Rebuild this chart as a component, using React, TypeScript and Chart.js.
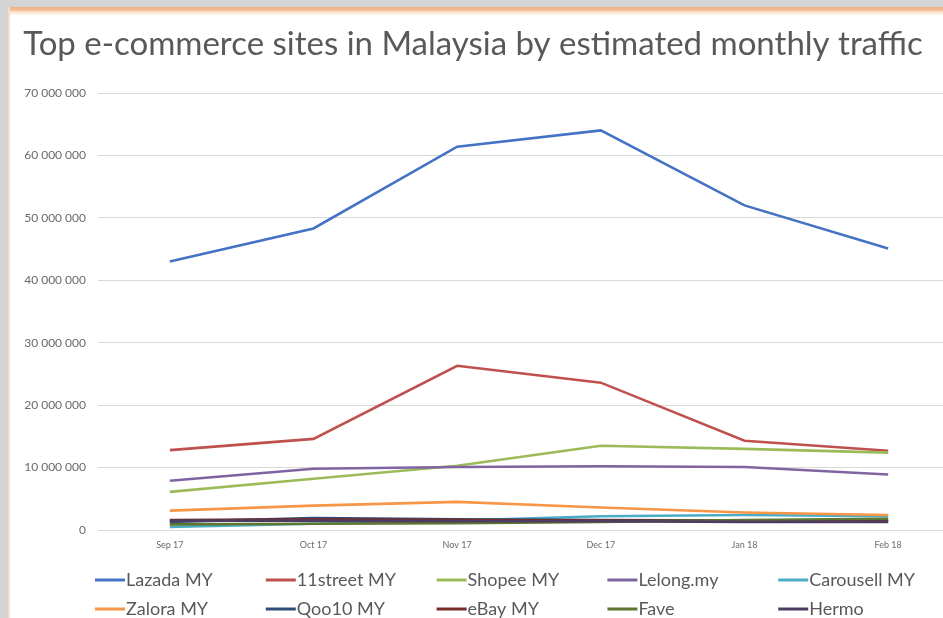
import React, { useEffect, useRef } from "react";
import { Chart, registerables } from "chart.js";

Chart.register(...registerables);

const titleText = "Top e-commerce sites in Malaysia by estimated monthly traffic";
const months = ["Sep 17", "Oct 17", "Nov 17", "Dec 17", "Jan 18", "Feb 18"];

const lazada = [43000000, 48300000, 61400000, 64000000, 52000000, 45100000];
const street11 = [12800000, 14600000, 26300000, 23600000, 14300000, 12700000];
const shopee = [6100000, 8200000, 10300000, 13500000, 13000000, 12400000];
const lelong = [7900000, 9800000, 10100000, 10200000, 10100000, 8900000];
const carousell = [500000, 1000000, 1500000, 2200000, 2400000, 2200000];
const zalora = [3100000, 3900000, 4500000, 3600000, 2800000, 2400000];
const qoo10 = [1300000, 1900000, 1700000, 1600000, 1500000, 1500000];
const ebay = [1600000, 1700000, 1600000, 1500000, 1500000, 1400000];
const fave = [900000, 1000000, 1100000, 1300000, 1600000, 1800000];
const hermo = [1500000, 1500000, 1400000, 1400000, 1300000, 1300000];

const seriesNames = [
  "Lazada MY", "11street MY", "Shopee MY", "Lelong.my", "Carousell MY",
  "Zalora MY", "Qoo10 MY", "eBay MY", "Fave", "Hermo",
];
const seriesValues = [lazada, street11, shopee, lelong, carousell, zalora, qoo10, ebay, fave, hermo];
const seriesColors = [
  "#4472C4", "#C0504D", "#9BBB59", "#8064A2", "#4BACC6",
  "#F79646", "#2C4D75", "#772C2A", "#5F7530", "#4D3B62",
];

const yMax = 70000000;
const yStep = 10000000;

const fmt = (v: number) => String(Math.round(v)).replace(/\B(?=(\d{3})+(?!\d))/g, " ");

const textColor = "#595959";
const FONT = "Lato, 'Open Sans', sans-serif";

const overlayPlugin = {
  id: "titleLegend",
  afterDraw(chart: any) {
    const ctx = chart.ctx;
    ctx.save();
    // title
    ctx.fillStyle = textColor;
    ctx.font = `33px ${FONT}`;
    ctx.textAlign = "center";
    ctx.textBaseline = "middle";
    ctx.fillText(titleText, 473, 44);
    // legend grid
    ctx.font = `18px ${FONT}`;
    ctx.textAlign = "left";
    const startX = 95;
    const colW = 170.8;
    const rowY = [580, 609];
    chart.data.datasets.forEach((ds: any, i: number) => {
      const col = i % 5;
      const row = Math.floor(i / 5);
      const x = startX + col * colW;
      const y = rowY[row];
      ctx.strokeStyle = ds.borderColor;
      ctx.lineWidth = 3;
      ctx.beginPath();
      ctx.moveTo(x, y);
      ctx.lineTo(x + 30, y);
      ctx.stroke();
      ctx.fillStyle = textColor;
      ctx.fillText(ds.label, x + 31, y);
    });
    ctx.restore();
  },
};

export default function App() {
  const ref = useRef<HTMLCanvasElement | null>(null);

  useEffect(() => {
    document.body.style.margin = "0";
    const canvas = ref.current;
    if (!canvas) return;
    const chart = new Chart(canvas, {
      type: "line",
      data: {
        labels: months,
        datasets: seriesValues.map((vals, i) => ({
          label: seriesNames[i],
          data: vals,
          borderColor: seriesColors[i],
          backgroundColor: seriesColors[i],
          borderWidth: 2.6,
          pointRadius: 0,
          tension: 0,
          fill: false,
          order: -i,
        })),
      },
      options: {
        responsive: false,
        animation: false,
        layout: { padding: { left: 0, right: 20, top: 93, bottom: 0 } },
        plugins: {
          legend: { display: false },
          title: { display: false },
          tooltip: { enabled: false },
        },
        scales: {
          x: {
            offset: true,
            grid: { display: false, drawTicks: false },
            border: { display: false },
            ticks: {
              color: "#6a6a6a",
              font: { family: FONT, size: 9 },
              padding: 10,
              maxRotation: 0,
            },
            afterFit: (scale: any) => {
              scale.height = 88;
            },
          },
          y: {
            min: 0,
            max: yMax,
            ticks: {
              stepSize: yStep,
              color: "#6a6a6a",
              font: { family: FONT, size: 12 },
              padding: 12,
              callback: (v: any) => fmt(Number(v)),
            },
            grid: { color: "#d9d9d9", lineWidth: 1, drawTicks: false },
            border: { display: false },
            afterFit: (scale: any) => {
              scale.width = 98;
            },
          },
        },
      },
      plugins: [overlayPlugin],
    });
    return () => chart.destroy();
  }, []);

  return (
    <div
      style={{
        position: "fixed",
        left: 0,
        top: 0,
        width: 943,
        height: 618,
        overflow: "hidden",
        background: "#d4d4d4",
      }}
    >
      <div
        style={{
          position: "absolute",
          left: 8,
          top: 7,
          width: 960,
          height: 620,
          background:
            "linear-gradient(to bottom, #f1ad7f 0px, #f4bc95 3px, #fbe2d0 5px, #ffffff 9px, #ffffff 100%)",
          borderLeft: "2px solid #f8dccb",
        }}
      />
      <canvas
        ref={ref}
        width={980}
        height={618}
        style={{ position: "absolute", left: 0, top: 0, width: 980, height: 618 }}
      />
    </div>
  );
}
